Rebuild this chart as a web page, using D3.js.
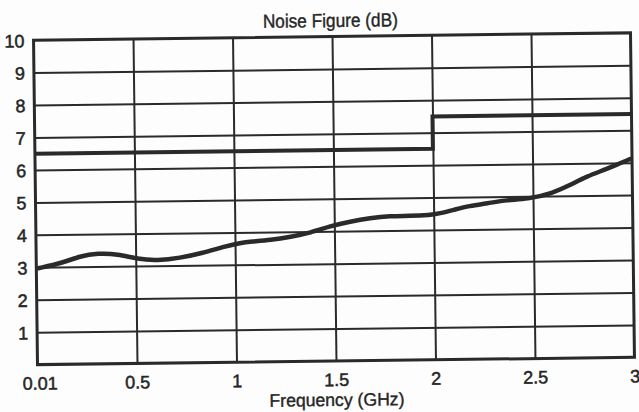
<!DOCTYPE html>
<html>
<head>
<meta charset="utf-8">
<script src="https://cdn.jsdelivr.net/npm/d3@7"></script>
<style>
  body { margin: 0; background: #fdfdfd; }
  svg { display: block; }
  text { font-family: "Liberation Sans", Arial, sans-serif; fill: #262626; }
</style>
</head>
<body>
<script>
const freq = [0.01, 0.13, 0.22, 0.31, 0.41, 0.51, 0.61, 0.72, 0.84, 0.94, 1.03, 1.08,
  1.18, 1.28, 1.38, 1.48, 1.58, 1.68, 1.78, 1.88, 1.98, 2.03, 2.1, 2.18, 2.27,
  2.37, 2.47, 2.6, 2.69, 2.77, 2.87, 2.94, 2.99];
const noise = [2.97, 3.12, 3.33, 3.41, 3.38, 3.21, 3.16, 3.23, 3.38, 3.56, 3.68, 3.71,
  3.75, 3.84, 3.96, 4.16, 4.29, 4.39, 4.45, 4.44, 4.46, 4.51, 4.61, 4.73, 4.8,
  4.9, 4.91, 5.09, 5.34, 5.59, 5.81, 5.99, 6.11];

// Spec limit (step)
const specFreq = [0, 2, 3];
const specNoise = [6.5, 7.5, 7.5];

// Tick labels
const xTicks = [0.01, 0.5, 1, 1.5, 2, 2.5, 3];
const xTickLabels = ["0.01", "0.5", "1", "1.5", "2", "2.5", "3"];
const yTicks = [1, 2, 3, 4, 5, 6, 7, 8, 9, 10];

const W = 639, H = 412;
const margin = { top: 36.5, right: 6.5, bottom: 51, left: 35.5 };
const width = W - margin.left - margin.right;
const height = H - margin.top - margin.bottom;
const ink = "#2a2a2a";

const svg = d3.select("body").append("svg")
  .attr("width", W)
  .attr("height", H);

// the scan is slightly tilted
const g = svg.append("g")
  .attr("transform", `rotate(-0.7, 334, 199) translate(${margin.left},${margin.top})`);

const x = d3.scaleLinear().domain([0, 3]).range([0, width]);
const y = d3.scaleLinear().domain([0, 10]).range([height, 0]);

// grid
g.append("g")
  .call(d3.axisLeft(y).tickValues(d3.range(1, 10)).tickSize(-width).tickFormat(""))
  .call((s) => s.select(".domain").remove())
  .call((s) => s.selectAll("line").attr("stroke", ink).attr("stroke-width", 2));

g.append("g")
  .attr("transform", `translate(0,${height})`)
  .call(d3.axisBottom(x).tickValues([0.5, 1, 1.5, 2, 2.5]).tickSize(-height).tickFormat(""))
  .call((s) => s.select(".domain").remove())
  .call((s) => s.selectAll("line").attr("stroke", ink).attr("stroke-width", 2));

// frame
g.append("rect")
  .attr("width", width)
  .attr("height", height)
  .attr("fill", "none")
  .attr("stroke", ink)
  .attr("stroke-width", 3);

// tick labels
g.append("g")
  .attr("transform", "translate(-6,0)")
  .call(d3.axisLeft(y).tickValues(yTicks).tickSize(0))
  .call((s) => s.select(".domain").remove())
  .call((s) => s.selectAll("text")
    .attr("dy", "0.36em")
    .style("font-size", "18px")
    .attr("stroke", "#262626").attr("stroke-width", 0.5));

g.append("g")
  .attr("transform", `translate(0,${height})`)
  .call(d3.axisBottom(x).tickValues(xTicks).tickSize(0)
    .tickFormat((d, i) => xTickLabels[i]))
  .call((s) => s.select(".domain").remove())
  .call((s) => s.selectAll("text")
    .attr("y", 25).attr("dy", 0)
    .style("font-size", "18px")
    .attr("stroke", "#262626").attr("stroke-width", 0.5));

// spec line
const spec = specFreq.map((f, i) => [f, specNoise[i]]);
g.append("path")
  .datum(spec)
  .attr("fill", "none")
  .attr("stroke", ink)
  .attr("stroke-width", 4)
  .attr("d", d3.line().x((d) => x(d[0])).y((d) => y(d[1])).curve(d3.curveStepAfter));

// measured curve
const curve = freq.map((f, i) => [f, noise[i]]);
g.append("path")
  .datum(curve)
  .attr("fill", "none")
  .attr("stroke", ink)
  .attr("stroke-width", 4.5)
  .attr("stroke-linecap", "round")
  .attr("d", d3.line().x((d) => x(d[0])).y((d) => y(d[1])).curve(d3.curveBasis));

// titles
g.append("text")
  .attr("x", 297)
  .attr("y", -9.5)
  .attr("text-anchor", "middle")
  .attr("textLength", 135)
  .attr("lengthAdjust", "spacingAndGlyphs")
  .style("font-size", "19px")
  .attr("stroke", "#262626").attr("stroke-width", 0.4)
  .text("Noise Figure (dB)");

g.append("text")
  .attr("x", 299)
  .attr("y", 369.5)
  .attr("text-anchor", "middle")
  .attr("textLength", 135)
  .attr("lengthAdjust", "spacingAndGlyphs")
  .style("font-size", "18px")
  .attr("stroke", "#262626").attr("stroke-width", 0.4)
  .text("Frequency (GHz)");
</script>
</body>
</html>
